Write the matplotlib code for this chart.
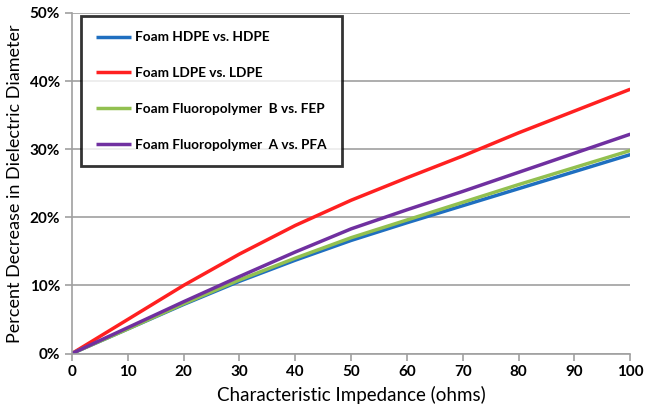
import matplotlib
matplotlib.use("Agg")
from matplotlib import pyplot as plt
from matplotlib.ticker import FuncFormatter

plt.rcParams['font.family'] = ['Lato', 'DejaVu Sans']

impedance = [0, 10, 20, 30, 40, 50, 60, 70, 80, 90, 100]
hdpe = [0, 3.6, 7.2, 10.6, 13.7, 16.6, 19.2, 21.7, 24.2, 26.7, 29.2]
ldpe = [0, 5.0, 10.0, 14.6, 18.8, 22.5, 25.8, 29.0, 32.4, 35.6, 38.8]
fep = [0, 3.6, 7.3, 10.8, 14.0, 17.0, 19.6, 22.2, 24.8, 27.3, 29.8]
pfa = [0, 3.8, 7.6, 11.3, 14.9, 18.3, 21.1, 23.8, 26.6, 29.4, 32.2]

labels = ['Foam HDPE vs. HDPE', 'Foam LDPE vs. LDPE',
          'Foam Fluoropolymer  B vs. FEP', 'Foam Fluoropolymer  A vs. PFA']
colors = ['#1F6FC0', '#FF2020', '#92C050', '#7030A0']

fig = plt.figure(figsize=(6.6, 4.04), dpi=100)
ax = fig.add_axes([0.109, 0.125, 0.846, 0.843])

for ys, lab, c in zip([hdpe, ldpe, fep, pfa], labels, colors):
    ax.plot(impedance, ys, color=c, lw=2.5, label=lab, solid_capstyle='butt')

ax.set_xlim(0, 100)
ax.set_ylim(0, 50)
ax.set_xticks(range(0, 101, 10))
ax.set_yticks(range(0, 51, 10))
ax.yaxis.set_major_formatter(FuncFormatter(lambda v, p: f'{int(v)}%'))
ax.grid(axis='y', color='#A0A0A0', lw=1.2)
ax.set_axisbelow(True)
for s in ['top', 'right']:
    ax.spines[s].set_visible(False)
for s in ['left', 'bottom']:
    ax.spines[s].set_color('#A0A0A0')
    ax.spines[s].set_linewidth(1.2)
ax.tick_params(colors='#A0A0A0', labelcolor='black', labelsize=11, length=5, width=1.2)
for t in ax.get_xticklabels() + ax.get_yticklabels():
    t.set_fontweight('bold')

ax.set_xlabel('Characteristic Impedance (ohms)', fontsize=13.5, labelpad=5)
ax.set_ylabel('Percent Decrease in Dielectric Diameter', fontsize=13, labelpad=5)

leg = ax.legend(loc='upper left', bbox_to_anchor=(0.016, 0.99), fontsize=9.8,
                frameon=True, fancybox=False, handlelength=2.6, handletextpad=0.3,
                labelspacing=1.75, borderpad=1.1, borderaxespad=0.0)
leg.get_frame().set_edgecolor('black')
leg.get_frame().set_linewidth(2)
for t in leg.get_texts():
    t.set_fontweight('bold')

fig.savefig('out.png', dpi=100)
